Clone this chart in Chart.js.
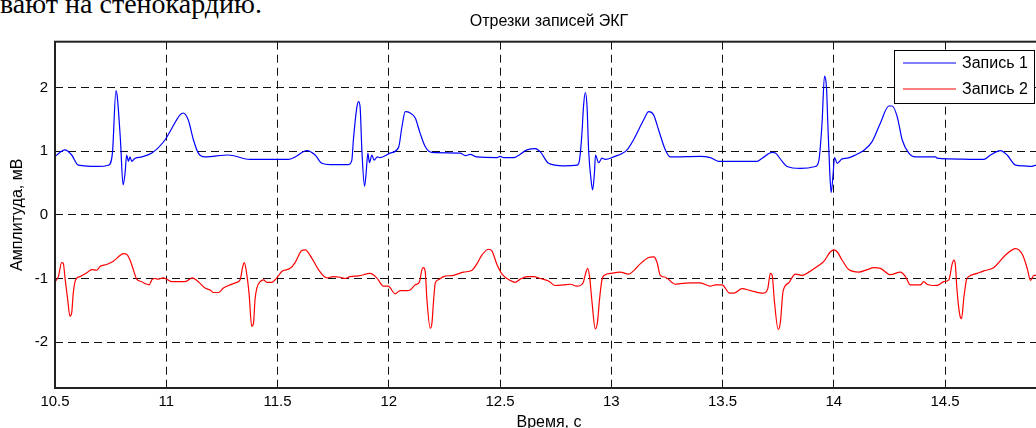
<!DOCTYPE html>
<html>
<head>
<meta charset="utf-8">
<script src="https://cdn.jsdelivr.net/npm/chart.js@4/dist/chart.umd.min.js"></script>
<style>
  html, body { margin: 0; padding: 0; overflow: hidden; background: #fff; width: 1036px; height: 428px; }
  #doc { position: absolute; left: 0; top: -10px; font: 28px/1 "Liberation Serif", "Times New Roman", serif; color: #000; white-space: nowrap; }
  #wrap { position: absolute; left: 0; top: 0; }
</style>
</head>
<body>
<div id="doc">вают на стенокардию.</div>
<div id="wrap"><canvas id="ecg" width="1050" height="428"></canvas></div>
<script>
// Запись 1 (синяя)
const time1 = [10.500,10.545,10.575,10.605,10.693,10.740,10.758,10.774,10.780,10.794,
  10.806,10.815,10.822,10.830,10.837,10.845,10.860,10.890,10.935,10.995,
  11.017,11.062,11.076,11.099,11.122,11.144,11.174,11.279,11.377,11.548,
  11.579,11.615,11.632,11.669,11.699,11.737,11.819,11.834,11.841,11.857,
  11.864,11.871,11.879,11.891,11.898,11.906,11.913,11.924,11.934,11.949,
  11.961,12.006,12.044,12.059,12.074,12.096,12.119,12.141,12.164,12.194,
  12.321,12.344,12.366,12.396,12.486,12.501,12.516,12.561,12.621,12.658,
  12.681,12.718,12.786,12.846,12.857,12.868,12.875,12.883,12.891,12.898,
  12.909,12.916,12.924,12.929,12.943,12.958,12.973,13.010,13.071,13.100,
  13.145,13.168,13.190,13.213,13.243,13.266,13.400,13.445,13.482,13.655,
  13.678,13.723,13.737,13.768,13.790,13.850,13.917,13.932,13.947,13.958,
  13.967,13.973,13.982,13.988,13.997,14.003,14.015,14.037,14.060,14.097,
  14.134,14.172,14.209,14.247,14.262,14.285,14.307,14.337,14.367,14.457,
  14.464,14.517,14.674,14.704,14.749,14.779,14.817,14.854,14.884,14.911,
  14.950];
const record1 = [0.92,1.02,0.94,0.78,0.76,0.78,0.97,1.95,1.85,1.18,
  0.47,0.66,0.94,0.84,0.91,0.84,0.89,0.91,0.97,1.18,
  1.31,1.57,1.60,1.49,1.18,0.97,0.91,0.94,0.87,0.87,
  0.91,0.99,1.01,0.94,0.81,0.79,0.79,0.86,1.18,1.70,
  1.78,1.70,1.02,0.45,0.65,0.97,0.82,0.94,0.86,0.91,
  0.90,0.97,1.06,1.38,1.62,1.60,1.52,1.28,1.07,0.98,
  0.97,0.93,0.95,0.91,0.90,0.92,0.90,0.90,1.02,1.04,
  0.99,0.81,0.77,0.78,0.86,1.28,1.70,1.92,1.70,1.02,
  0.55,0.39,0.65,0.94,0.82,0.89,0.87,0.91,1.02,1.18,
  1.49,1.62,1.57,1.33,1.02,0.91,0.92,0.90,0.84,0.84,
  0.89,0.98,0.97,0.84,0.76,0.73,0.76,0.84,1.44,2.18,
  2.00,1.44,0.65,0.35,0.65,0.90,0.81,0.88,0.89,0.94,
  1.01,1.15,1.44,1.71,1.71,1.54,1.18,0.97,0.91,0.91,
  0.89,0.88,0.87,0.94,1.01,0.94,0.78,0.77,0.76,0.78,
  0.77];

// Запись 2 (красная)
const time2 = [10.500,10.515,10.530,10.537,10.545,10.557,10.567,10.575,10.582,10.593,
  10.612,10.643,10.665,10.688,10.702,10.732,10.762,10.792,10.807,10.822,
  10.837,10.852,10.867,10.890,10.905,10.923,10.937,10.950,10.964,10.987,
  11.002,11.025,11.085,11.117,11.144,11.174,11.197,11.212,11.234,11.257,
  11.287,11.317,11.332,11.344,11.351,11.362,11.372,11.384,11.392,11.399,
  11.407,11.422,11.437,11.452,11.474,11.497,11.519,11.557,11.579,11.609,
  11.624,11.654,11.684,11.722,11.751,11.781,11.804,11.826,11.864,11.916,
  11.946,11.976,11.997,12.029,12.051,12.081,12.096,12.119,12.138,12.149,
  12.156,12.164,12.171,12.186,12.194,12.201,12.209,12.223,12.246,12.291,
  12.336,12.374,12.396,12.419,12.448,12.464,12.486,12.509,12.546,12.568,
  12.591,12.621,12.651,12.681,12.718,12.748,12.786,12.816,12.846,12.873,
  12.883,12.894,12.903,12.913,12.928,12.938,12.947,12.958,12.973,12.996,
  13.040,13.078,13.100,13.130,13.168,13.190,13.205,13.220,13.243,13.288,
  13.310,13.355,13.400,13.445,13.468,13.498,13.532,13.550,13.588,13.625,
  13.685,13.703,13.715,13.723,13.733,13.750,13.760,13.772,13.797,13.827,
  13.857,13.887,13.925,13.955,13.985,14.000,14.015,14.037,14.067,14.112,
  14.150,14.180,14.209,14.254,14.299,14.322,14.344,14.374,14.389,14.404,
  14.419,14.449,14.472,14.494,14.517,14.532,14.539,14.546,14.554,14.566,
  14.574,14.584,14.596,14.606,14.644,14.674,14.718,14.772,14.817,14.847,
  14.869,14.884,14.899,14.911,14.950];
const record2 = [-1.05,-0.97,-0.75,-0.76,-0.99,-1.33,-1.59,-1.54,-1.23,-1.02,
  -0.97,-0.91,-0.86,-0.87,-0.81,-0.78,-0.73,-0.64,-0.61,-0.62,
  -0.71,-0.86,-1.01,-1.05,-1.08,-1.10,-1.01,-1.00,-1.01,-0.99,
  -1.01,-1.05,-1.05,-0.99,-1.05,-1.15,-1.18,-1.22,-1.22,-1.15,
  -1.10,-1.06,-1.02,-0.81,-0.75,-0.94,-1.23,-1.75,-1.70,-1.33,
  -1.15,-1.05,-1.02,-1.06,-1.06,-0.99,-0.89,-0.84,-0.75,-0.56,
  -0.55,-0.68,-0.86,-0.99,-0.97,-0.98,-1.00,-0.97,-0.96,-0.92,
  -0.99,-1.12,-1.12,-1.24,-1.19,-1.19,-1.18,-1.10,-1.05,-0.86,
  -0.83,-0.90,-1.31,-1.78,-1.70,-1.36,-1.07,-1.02,-0.97,-0.95,
  -0.90,-0.87,-0.77,-0.63,-0.54,-0.57,-0.78,-0.93,-1.03,-1.06,
  -1.01,-0.97,-0.97,-1.00,-1.04,-1.11,-1.10,-1.09,-1.12,-1.07,
  -0.94,-0.84,-0.99,-1.36,-1.79,-1.68,-1.33,-1.02,-0.94,-0.92,
  -0.90,-0.93,-0.88,-0.77,-0.67,-0.66,-0.74,-0.95,-0.98,-1.09,
  -1.08,-1.07,-1.07,-1.12,-1.10,-1.10,-1.23,-1.23,-1.16,-1.19,
  -1.23,-1.16,-0.92,-0.95,-1.36,-1.80,-1.68,-1.20,-1.07,-0.93,
  -0.95,-0.90,-0.81,-0.73,-0.58,-0.55,-0.58,-0.71,-0.86,-0.90,
  -0.86,-0.83,-0.84,-0.94,-0.90,-0.97,-1.10,-1.10,-1.10,-1.05,
  -1.09,-1.11,-1.10,-1.05,-1.02,-0.77,-0.71,-0.78,-1.20,-1.57,
  -1.63,-1.31,-1.02,-0.97,-0.92,-0.88,-0.83,-0.63,-0.53,-0.62,
  -0.84,-1.03,-0.95,-0.95,-0.95];

const seriesNames = ['Запись 1', 'Запись 2'];
const seriesColors = ['#0000ff', '#ff0000'];
const xRange = [10.5, 14.94];
const yRange = [-2.72, 2.72];

const FONT = '"Liberation Sans", Arial, sans-serif';

function toPoints(t, v) {
    return t.map(function (x, i) { return { x: x, y: v[i] }; });
}

// рамка осей (box on)
const frameBox = {
    id: 'frameBox',
    afterDatasetsDraw(chart) {
        const a = chart.chartArea;
        const ctx = chart.ctx;
        ctx.save();
        ctx.strokeStyle = '#222';
        ctx.lineWidth = 2;
        ctx.strokeRect(a.left, a.top, a.right - a.left, a.bottom - a.top);
        ctx.restore();
    }
};

// легенда в правом верхнем углу, в рамке
const legendBox = {
    id: 'legendBox',
    afterDraw(chart) {
        const a = chart.chartArea;
        const ctx = chart.ctx;
        const w = 140, h = 53;
        const x = Math.round(a.right - 9 - w), y = Math.round(a.top + 8);
        ctx.save();
        ctx.fillStyle = '#fff';
        ctx.fillRect(x, y, w, h);
        ctx.strokeStyle = '#000';
        ctx.lineWidth = 1;
        ctx.strokeRect(x + 0.5, y + 0.5, w, h);
        ctx.font = '16px ' + FONT;
        ctx.textBaseline = 'middle';
        seriesNames.forEach(function (name, i) {
            const cy = y + 13 + i * 26;
            ctx.save();
            ctx.strokeStyle = seriesColors[i];
            ctx.lineWidth = 1.2;
            ctx.beginPath();
            ctx.moveTo(x + 9, cy);
            ctx.lineTo(x + 62, cy);
            ctx.stroke();
            ctx.restore();
            ctx.fillStyle = '#000';
            ctx.fillText(name, x + 68, cy + 1);
        });
        ctx.restore();
    }
};

const fmt = function (v) { return String(Math.round(v * 10) / 10); };

new Chart(document.getElementById('ecg'), {
    type: 'line',
    data: {
        datasets: [
            { label: seriesNames[0], data: toPoints(time1, record1), borderColor: seriesColors[0], borderWidth: 1.2,
              pointRadius: 0, cubicInterpolationMode: 'monotone' },
            { label: seriesNames[1], data: toPoints(time2, record2), borderColor: seriesColors[1], borderWidth: 1.2,
              pointRadius: 0, cubicInterpolationMode: 'monotone' }
        ]
    },
    options: {
        responsive: false,
        animation: false,
        devicePixelRatio: 1,
        layout: { padding: { left: 0, right: 7, top: 0, bottom: 0 } },
        plugins: {
            legend: { display: false },
            tooltip: { enabled: false },
            title: {
                display: true, text: 'Отрезки записей ЭКГ', fullSize: false,
                color: '#000', font: { family: FONT, size: 16, weight: 'normal', lineHeight: 1.2 },
                padding: { top: 12, bottom: 10.5 }
            }
        },
        scales: {
            x: {
                type: 'linear', min: xRange[0], max: xRange[1],
                afterFit: function (s) { s.height = 40; },
                ticks: { stepSize: 0.5, includeBounds: false, color: '#000', padding: 5, maxRotation: 0,
                         callback: fmt, font: { family: FONT, size: 15 } },
                grid: { color: '#111', lineWidth: 1, drawTicks: false },
                border: { display: false, dash: [8, 5] },
                title: { display: true, text: 'Время, с', color: '#000', padding: { top: 0, bottom: -4 },
                         font: { family: FONT, size: 16 } }
            },
            y: {
                min: yRange[0], max: yRange[1],
                afterFit: function (s) { s.width = 55; },
                ticks: { stepSize: 1, includeBounds: false, color: '#000', padding: 7,
                         callback: fmt, font: { family: FONT, size: 15 } },
                grid: { color: '#111', lineWidth: 1, drawTicks: false },
                border: { display: false, dash: [8, 5] },
                title: { display: true, text: 'Амплитуда, мВ', color: '#000', padding: { top: 8, bottom: 0 },
                         font: { family: FONT, size: 16 } }
            }
        }
    },
    plugins: [frameBox, legendBox]
});
</script>
</body>
</html>
